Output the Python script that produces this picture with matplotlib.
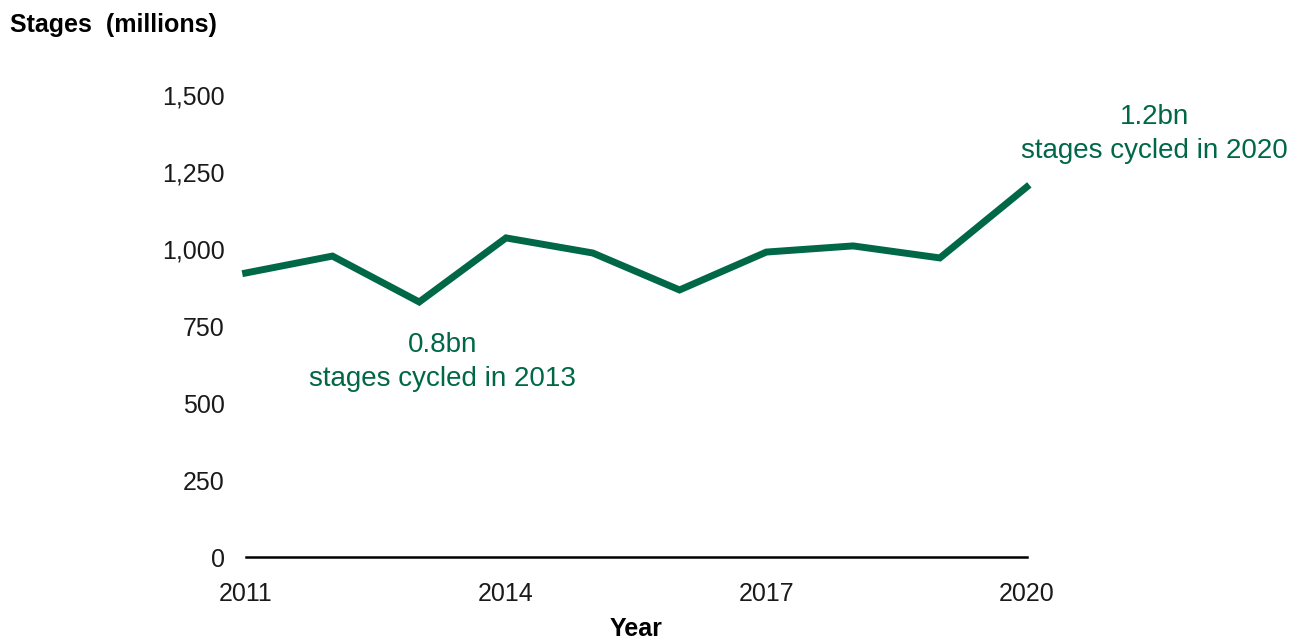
import matplotlib.pyplot as plt
from matplotlib.ticker import FuncFormatter

plt.rcParams["font.family"] = ["Liberation Sans", "DejaVu Sans"]

years = [2011, 2012, 2013, 2014, 2015, 2016, 2017, 2018, 2019, 2020]
stages = [922, 977, 828, 1036, 987, 867, 990, 1010, 971, 1201]
x_ticks = [2011, 2014, 2017, 2020]
y_ticks = [0, 250, 500, 750, 1000, 1250, 1500]

GREEN = "#006847"

fig = plt.figure(figsize=(12.93, 6.43), dpi=100)
ax = fig.add_axes([0.190, 0.1337, 0.604, 0.7186])

ax.plot(years, stages, color=GREEN, lw=5, solid_joinstyle="miter", clip_on=False)

ax.set_xlim(2011, 2020)
ax.set_ylim(0, 1500)
ax.set_xticks(x_ticks)
ax.set_yticks(y_ticks)
ax.yaxis.set_major_formatter(FuncFormatter(lambda v, p: f"{int(v):,}"))
ax.tick_params(axis="both", length=0, labelsize=18, colors="#1a1a1a")
ax.tick_params(axis="y", pad=15)
ax.tick_params(axis="x", pad=18)

for s in ["top", "right", "left"]:
    ax.spines[s].set_visible(False)
ax.spines["bottom"].set_linewidth(1.8)
ax.spines["bottom"].set_color("black")

ax.set_xlabel("Year", fontsize=18, fontweight="bold", labelpad=8)
fig.text(0.008, 0.961, "Stages  (millions)", fontsize=18, fontweight="bold", va="center", ha="left")

ax.annotate("0.8bn\nstages cycled in 2013", xy=(2013, stages[2]), xytext=(2013.27, 633),
            textcoords="data", ha="center", va="center", fontsize=20, color=GREEN,
            linespacing=1.4)
ax.annotate("1.2bn\nstages cycled in 2020", xy=(2020, stages[9]), xytext=(2021.47, 1373),
            textcoords="data", ha="center", va="center", fontsize=20, color=GREEN,
            linespacing=1.4, annotation_clip=False)

fig.savefig("out.png", dpi=100)
